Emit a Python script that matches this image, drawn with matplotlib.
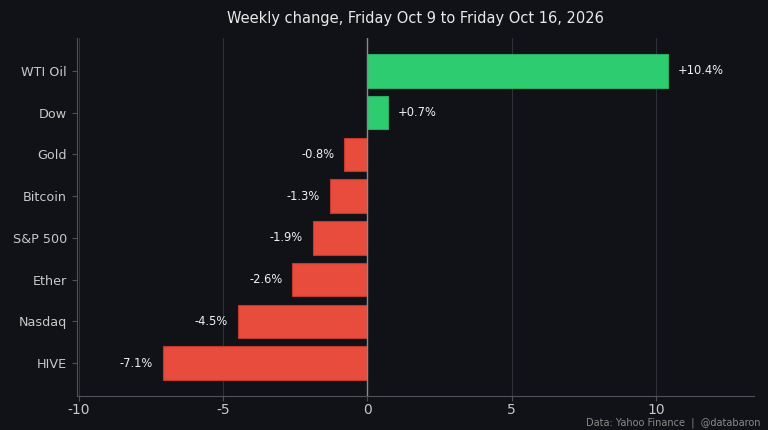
import matplotlib.pyplot as plt
import numpy as np

assets = ['WTI Oil', 'Dow', 'Gold', 'Bitcoin', 'S&P 500', 'Ether', 'Nasdaq', 'HIVE']
changes = [10.4, 0.7, -0.8, -1.3, -1.9, -2.6, -4.5, -7.1]

bg = '#111217'
txt = '#c8c8c8'
green = '#2ecc71'
red = '#e74c3c'

fig, ax = plt.subplots(figsize=(7.68, 4.3), dpi=100)
fig.patch.set_facecolor(bg)
ax.set_facecolor(bg)

y = np.arange(len(assets))
colors = [green if c >= 0 else red for c in changes]
edges = ['#27ae60' if c >= 0 else '#c0392b' for c in changes]
bars = ax.barh(y, changes, height=0.8, color=colors, edgecolor=edges, linewidth=0.8, zorder=3)
ax.invert_yaxis()

for yi, c in zip(y, changes):
    if c >= 0:
        ax.annotate(f'+{c:.1f}%', (c, yi), xytext=(7, 0), textcoords='offset points',
                    ha='left', va='center', color='#f0f0f0', fontsize=8.3)
    else:
        ax.annotate(f'{c:.1f}%', (c, yi), xytext=(-7, 0), textcoords='offset points',
                    ha='right', va='center', color='#f0f0f0', fontsize=8.3)

ax.set_yticks(y, assets)
ax.set_xlim(-10.07, 13.4)
ax.set_xticks([-10, -5, 0, 5, 10], ['-10', '-5', '0', '5', '10'])
ax.axvline(0, color='#8a8a8a', linewidth=1, zorder=4)
ax.grid(axis='x', color='#303138', linewidth=0.8, zorder=0)

for s in ['top', 'right']:
    ax.spines[s].set_visible(False)
for s in ['left', 'bottom']:
    ax.spines[s].set_color('#505158')
ax.tick_params(colors='#505158', labelcolor=txt, labelsize=9.2)
ax.tick_params(axis='x', labelsize=10, pad=1.5)

ax.set_title('Weekly change, Friday Oct 9 to Friday Oct 16, 2026', color='#e8e8e8', fontsize=10.5, pad=11)
fig.text(0.99, 0.005, 'Data: Yahoo Finance  |  @databaron', ha='right', va='bottom', color='#8a8a8a', fontsize=7)

plt.subplots_adjust(left=0.1, right=0.982, top=0.912, bottom=0.079)
plt.savefig('out.png', facecolor=bg)
